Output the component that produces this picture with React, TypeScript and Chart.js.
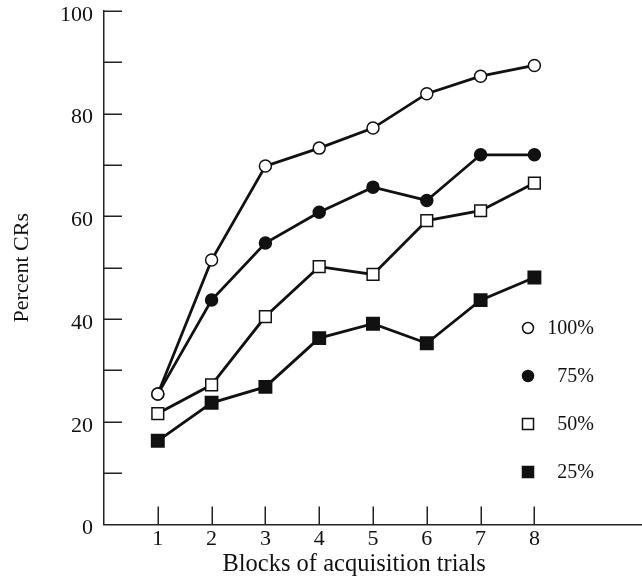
import React, { useEffect, useRef } from "react";
import { Chart, registerables } from "chart.js";

Chart.register(...registerables);

const blocks = [1, 2, 3, 4, 5, 6, 7, 8];
const pct100 = [25.4, 51.5, 69.8, 73.3, 77.2, 83.9, 87.3, 89.4];
const pct75 = [25.4, 43.7, 54.8, 60.8, 65.7, 63.1, 72.0, 72.0];
const pct50 = [21.6, 27.2, 40.5, 50.2, 48.7, 59.2, 61.1, 66.5];
const pct25 = [16.3, 23.7, 26.8, 36.3, 39.1, 35.3, 43.7, 48.1];
const seriesLabels = ["100%", "75%", "50%", "25%"];
const xTitle = "Blocks of acquisition trials";
const yTitle = "Percent CRs";

const FONT = "'Liberation Serif', 'Times New Roman', serif";
const INK = "#111";

const toPoints = (vals: number[]) => vals.map((v, i) => ({ x: blocks[i], y: v }));

const innerTicks = {
  id: "innerTicks",
  afterDraw(chart: any) {
    const { ctx, scales } = chart;
    const xs = scales.x;
    const ys = scales.y;
    const len = 18;
    ctx.save();
    ctx.strokeStyle = "#222";
    ctx.lineWidth = 1.5;
    ctx.beginPath();
    ys.ticks.forEach((t: any) => {
      if (t.value === 0) return;
      const py = Math.round(ys.getPixelForValue(t.value)) + 0.25;
      ctx.moveTo(xs.left, py);
      ctx.lineTo(xs.left + len, py);
    });
    blocks.forEach((b) => {
      const px = Math.round(xs.getPixelForValue(b)) + 0.25;
      ctx.moveTo(px, ys.bottom);
      ctx.lineTo(px, ys.bottom - len);
    });
    ctx.stroke();
    // x axis title, centred a little left of the plot centre as in the reference
    const cx = (xs.getPixelForValue(blocks[0]) + xs.getPixelForValue(blocks[blocks.length - 1])) / 2 + 8;
    ctx.fillStyle = INK;
    ctx.font = `24.5px ${FONT}`;
    ctx.textAlign = "center";
    ctx.textBaseline = "middle";
    ctx.fillText(xTitle, cx, xs.bottom - 15);
    ctx.restore();
  },
};

const markerLegend = {
  id: "markerLegend",
  afterDatasetsDraw(chart: any) {
    const { ctx, chartArea } = chart;
    const mx = chartArea.left + 424;
    const tx = chartArea.left + 490;
    const y0 = chartArea.top + 317;
    const gap = 48;
    ctx.save();
    chart.data.datasets.forEach((ds: any, i: number) => {
      const y = y0 + i * gap;
      ctx.lineWidth = 1.5;
      ctx.strokeStyle = INK;
      ctx.fillStyle = ds.pointBackgroundColor;
      ctx.beginPath();
      if (ds.pointStyle === "circle") {
        ctx.arc(mx, y, 5.5, 0, Math.PI * 2);
      } else {
        ctx.rect(mx - 5.5, y - 5.5, 11, 11);
      }
      ctx.fill();
      ctx.stroke();
      ctx.fillStyle = INK;
      ctx.font = `20px ${FONT}`;
      ctx.textAlign = "right";
      ctx.textBaseline = "middle";
      ctx.fillText(ds.label, tx, y + 1);
    });
    ctx.restore();
  },
};

function makeDataset(label: string, vals: number[], style: string, filled: boolean, radius: number) {
  return {
    label,
    data: toPoints(vals),
    borderColor: INK,
    backgroundColor: filled ? INK : "#fff",
    borderWidth: 2.8,
    pointStyle: style,
    pointRadius: radius,
    pointHoverRadius: radius,
    pointBackgroundColor: filled ? INK : "#fff",
    pointBorderColor: INK,
    pointBorderWidth: 1.5,
    fill: false,
    tension: 0,
  };
}

export default function App() {
  const ref = useRef<HTMLCanvasElement | null>(null);

  useEffect(() => {
    document.body.style.margin = "0";
    if (!ref.current) return;
    const chart = new Chart(ref.current, {
      type: "line",
      data: {
        datasets: [
          makeDataset(seriesLabels[0], pct100, "circle", false, 6),
          makeDataset(seriesLabels[1], pct75, "circle", true, 6),
          makeDataset(seriesLabels[2], pct50, "rect", false, 8.3),
          makeDataset(seriesLabels[3], pct25, "rect", true, 8.8),
        ] as any,
      },
      options: {
        animation: false,
        responsive: false,
        maintainAspectRatio: false,
        layout: { autoPadding: false, padding: { top: 11, left: 0, right: 0, bottom: 0 } },
        plugins: {
          legend: { display: false },
          tooltip: { enabled: false },
        },
        scales: {
          x: {
            type: "linear",
            min: 0,
            max: 10,
            grid: { display: false, drawTicks: false },
            border: { display: true, color: "#222", width: 1.5 },
            afterBuildTicks: (scale: any) => {
              scale.ticks = blocks.map((b) => ({ value: b }));
            },
            afterFit: (scale: any) => {
              scale.height = 55.5;
              scale.paddingLeft = 0;
              scale.paddingRight = 0;
            },
            ticks: {
              color: INK,
              font: { family: FONT, size: 22 },
              padding: 2,
              maxRotation: 0,
              autoSkip: false,
            },
            title: { display: false },
          },
          y: {
            type: "linear",
            min: 0,
            max: 100,
            grid: { display: false, drawTicks: false },
            border: { display: true, color: "#222", width: 1.5 },
            afterFit: (scale: any) => {
              scale.width = 104;
              scale.paddingTop = 0;
              scale.paddingBottom = 0;
            },
            ticks: {
              stepSize: 10,
              color: INK,
              font: { family: FONT, size: 22 },
              padding: 11,
              labelOffset: 4,
              callback: (v: any) => (Number(v) % 20 === 0 ? String(v) : ""),
            },
            title: {
              display: true,
              text: yTitle,
              color: INK,
              font: { family: FONT, size: 22 },
              padding: { top: 9, bottom: 0 },
            },
          },
        },
      },
      plugins: [innerTicks, markerLegend],
    });
    return () => chart.destroy();
  }, []);

  return (
    <div style={{ width: 642, height: 580 }}>
      <canvas ref={ref} width={642} height={580} style={{ display: "block", width: 642, height: 580 }} />
    </div>
  );
}
